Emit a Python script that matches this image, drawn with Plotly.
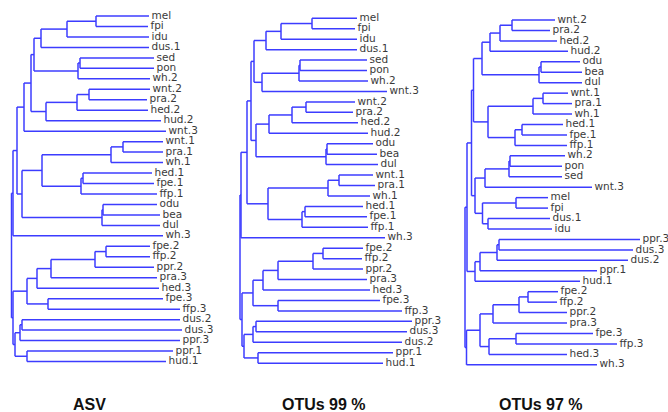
import plotly.graph_objects as go

# ---------------- data: ASV ----------------
asv_leaves = ["mel", "fpi", "idu", "dus.1", "sed", "pon", "wh.2", "wnt.2", "pra.2", "hed.2",
              "hud.2", "wnt.3", "wnt.1", "pra.1", "wh.1", "hed.1", "fpe.1", "ffp.1", "odu", "bea",
              "dul", "wh.3", "fpe.2", "ffp.2", "ppr.2", "pra.3", "hed.3", "fpe.3", "ffp.3", "dus.2",
              "dus.3", "ppr.3", "ppr.1", "hud.1"]
asv_tips = [139, 138, 139, 139, 144, 144, 140, 140, 137, 138,
            151, 156, 153, 153, 153, 142, 144, 147, 147, 150,
            150, 153, 140, 140, 144, 147, 149, 153, 170, 170,
            172, 170, 163, 156]
asv_nodes = [
    ("a1", "mel", "fpi", 86), ("a2", "a1", "idu", 57), ("a3", "a2", "dus.1", 31),
    ("a4", "sed", "pon", 70), ("a5", "a4", "wh.2", 68), ("a6", "a3", "a5", 24),
    ("a7", "wnt.2", "pra.2", 79), ("a8", "a7", "hed.2", 67), ("a9", "a8", "hud.2", 36),
    ("a10", "a6", "a9", 21), ("a11", "a10", "wnt.3", 14),
    ("b1", "wnt.1", "pra.1", 113), ("b2", "b1", "wh.1", 101), ("b3", "hed.1", "fpe.1", 73),
    ("b4", "b3", "ffp.1", 71), ("b5", "b2", "b4", 32), ("b6", "odu", "bea", 93),
    ("b7", "b6", "dul", 92), ("b8", "b5", "b7", 12), ("c1", "a11", "b8", 7),
    ("c2", "c1", "wh.3", 3),
    ("f1", "fpe.2", "ffp.2", 96), ("f2", "f1", "ppr.2", 85), ("f3", "f2", "pra.3", 41),
    ("f4", "f3", "hed.3", 27), ("f5", "fpe.3", "ffp.3", 38), ("f6", "f4", "f5", 17),
    ("d1", "dus.2", "dus.3", 12), ("d2", "d1", "ppr.3", 10), ("d3", "ppr.1", "hud.1", 17),
    ("d4", "d2", "d3", 5), ("e1", "f6", "d4", 3), ("root", "c2", "e1", 1.5),
]

# ---------------- data: OTUs 99 % ----------------
o99_leaves = ["mel", "fpi", "idu", "dus.1", "sed", "pon", "wh.2", "wnt.3", "wnt.2", "pra.2",
              "hed.2", "hud.2", "odu", "bea", "dul", "wnt.1", "pra.1", "wh.1", "hed.1", "fpe.1",
              "ffp.1", "wh.3", "fpe.2", "ffp.2", "ppr.2", "pra.3", "hed.3", "fpe.3", "ffp.3", "ppr.3",
              "dus.3", "dus.2", "ppr.1", "hud.1"]
o99_tips = [119, 117, 119, 119, 129, 129, 130, 149, 117, 115,
            120, 130, 135, 139, 140, 135, 137, 132, 125, 129,
            130, 147, 125, 124, 125, 129, 132, 142, 164, 174,
            169, 164, 155, 145]
o99_nodes = [
    ("a1", "mel", "fpi", 74), ("a2", "a1", "idu", 43), ("a3", "a2", "dus.1", 28),
    ("a4", "sed", "pon", 62), ("a5", "a4", "wh.2", 61), ("a6", "a5", "wnt.3", 24),
    ("a7", "a3", "a6", 16),
    ("a8", "wnt.2", "pra.2", 68), ("a9", "a8", "hed.2", 54), ("a10", "a9", "hud.2", 31),
    ("a11", "odu", "bea", 89), ("a12", "a11", "dul", 88), ("a13", "a10", "a12", 18),
    ("a14", "a7", "a13", 13),
    ("b1", "wnt.1", "pra.1", 101), ("b2", "b1", "wh.1", 90), ("b3", "hed.1", "fpe.1", 67),
    ("b4", "b3", "ffp.1", 64), ("b5", "b2", "b4", 30),
    ("c1", "a14", "b5", 9), ("c2", "c1", "wh.3", 3),
    ("f1", "fpe.2", "ffp.2", 85), ("f2", "f1", "ppr.2", 75), ("f3", "f2", "pra.3", 40),
    ("f4", "f3", "hed.3", 25), ("f5", "fpe.3", "ffp.3", 40), ("f6", "f4", "f5", 15),
    ("d1", "ppr.3", "dus.3", 18), ("d2", "d1", "dus.2", 15), ("d3", "ppr.1", "hud.1", 20),
    ("d4", "d2", "d3", 6), ("e1", "f6", "d4", 4), ("root", "c2", "e1", 2),
]

# ---------------- data: OTUs 97 % ----------------
o97_leaves = ["wnt.2", "pra.2", "hed.2", "hud.2", "odu", "bea", "dul", "wnt.1", "pra.1", "wh.1",
              "hed.1", "fpe.1", "ffp.1", "wh.2", "pon", "sed", "wnt.3", "mel", "fpi", "dus.1",
              "idu", "ppr.3", "dus.3", "dus.2", "ppr.1", "hud.1", "fpe.2", "ffp.2", "ppr.2", "pra.3",
              "fpe.3", "ffp.3", "hed.3", "wh.3"]
o97_tips = [91, 86, 93, 104, 116, 118, 118, 104, 108, 108,
            99, 103, 103, 101, 98, 98, 128, 84, 84, 86,
            88, 176, 169, 164, 133, 116, 94, 93, 103, 103,
            129, 153, 103, 133]
o97_nodes = [
    ("a1", "wnt.2", "pra.2", 48), ("a2", "a1", "hed.2", 36), ("a3", "a2", "hud.2", 26),
    ("a4", "odu", "bea", 77), ("a5", "a4", "dul", 75), ("a6", "a3", "a5", 18),
    ("b1", "wnt.1", "pra.1", 79), ("b2", "b1", "wh.1", 69), ("b3", "hed.1", "fpe.1", 58),
    ("b4", "b3", "ffp.1", 51), ("b5", "b2", "b4", 24), ("b6", "a6", "b5", 9.5),
    ("c1", "wh.2", "pon", 46), ("c2", "c1", "sed", 45), ("c3", "c2", "wnt.3", 21),
    ("c4", "mel", "fpi", 52), ("c5", "dus.1", "idu", 24), ("c6", "c4", "c5", 18.5),
    ("c7", "c3", "c6", 11), ("u1", "b6", "c7", 7.5),
    ("d1", "ppr.3", "dus.3", 35), ("d2", "d1", "dus.2", 33), ("d3", "d2", "ppr.1", 16),
    ("d4", "d3", "hud.1", 11), ("x1", "u1", "d4", 3),
    ("f1", "fpe.2", "ffp.2", 64), ("f2", "f1", "ppr.2", 55), ("f3", "f2", "pra.3", 29),
    ("f4", "fpe.3", "ffp.3", 52), ("f5", "f4", "hed.3", 25), ("f6", "f3", "f5", 16),
    ("f7", "f6", "wh.3", 2.5), ("root", "x1", "f7", 1),
]

titles = ["ASV", "OTUs 99 %", "OTUs 97 %"]

# ---------------- layout constants ----------------
W, H = 668, 412
panel_left_px = [10, 238, 464]
panel_right_px = [238, 464, 668]
first_row_px = [16, 18.3, 20]
row_px = [10.47, 10.45, 10.45]
title_x_px = [89, 323.5, 541]
title_y_px = 404
label_gap = 2.5

LINE = "#3c3cff"
TEXT = "#3a3a3a"


def build(leaves, tips, nodes):
    y = {n: i for i, n in enumerate(leaves)}
    x = dict(zip(leaves, tips))
    xs, ys = [], []
    for name, a, b, d in nodes:
        ya, yb = y[a], y[b]
        xs += [d, d, None]
        ys += [ya, yb, None]
        for c in (a, b):
            xs += [d, x[c], None]
            ys += [y[c], y[c], None]
        y[name] = (ya + yb) / 2
        x[name] = d
    return xs, ys


fig = go.Figure()
panels = [(asv_leaves, asv_tips, asv_nodes),
          (o99_leaves, o99_tips, o99_nodes),
          (o97_leaves, o97_tips, o97_nodes)]

layout = dict(width=W, height=H, margin=dict(l=0, r=0, t=0, b=0),
              paper_bgcolor="white", plot_bgcolor="white", showlegend=False)
annotations = []
for k, (leaves, tips, nodes) in enumerate(panels):
    sfx = "" if k == 0 else str(k + 1)
    xs, ys = build(leaves, tips, nodes)
    fig.add_trace(go.Scatter(x=xs, y=ys, mode="lines",
                             line=dict(color=LINE, width=1.5),
                             xaxis="x" + sfx, yaxis="y" + sfx, hoverinfo="skip"))
    fig.add_trace(go.Scatter(x=[t + label_gap for t in tips], y=list(range(len(leaves))),
                             mode="text", text=leaves, textposition="middle right",
                             textfont=dict(family="DejaVu Sans", size=10.5, color=TEXT),
                             cliponaxis=False,
                             xaxis="x" + sfx, yaxis="y" + sfx, hoverinfo="skip"))
    l, r = panel_left_px[k], panel_right_px[k]
    top = -first_row_px[k] / row_px[k]
    bottom = top + H / row_px[k]
    layout["xaxis" + sfx] = dict(domain=[l / W, r / W], range=[0, r - l], visible=False,
                                 fixedrange=True, anchor="y" + sfx)
    layout["yaxis" + sfx] = dict(domain=[0, 1], range=[bottom, top], visible=False,
                                 fixedrange=True, anchor="x" + sfx)
    annotations.append(dict(text="<b>%s</b>" % titles[k], xref="paper", yref="paper",
                            x=title_x_px[k] / W, y=1 - title_y_px / H,
                            xanchor="center", yanchor="middle", showarrow=False,
                            font=dict(family="Liberation Sans", size=16, color="#111111")))

layout["annotations"] = annotations
fig.update_layout(**layout)
fig.write_html("out.html", config={"displayModeBar": False, "staticPlot": True},
               post_script="document.body.style.margin='0';document.body.style.overflow='hidden';")
